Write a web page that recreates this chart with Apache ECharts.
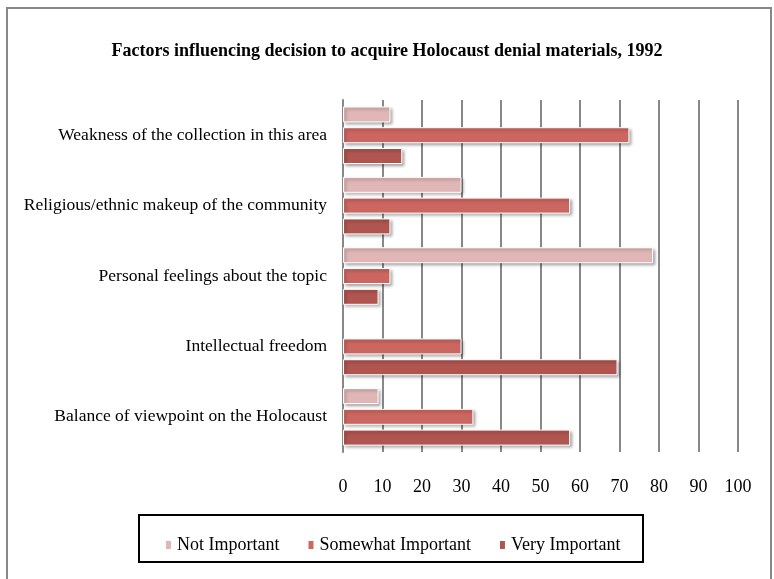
<!DOCTYPE html>
<html><head><meta charset="utf-8">
<script src="https://cdn.jsdelivr.net/npm/echarts@6/dist/echarts.min.js"></script>
<style>html,body{margin:0;padding:0;background:#fff}#c{width:774px;height:579px}</style>
</head><body><div id="c"></div>
<script>
const categories = ["Weakness of the collection in this area","Religious/ethnic makeup of the community","Personal feelings about the topic","Intellectual freedom","Balance of viewpoint on the Holocaust"];
const notImportant = [12, 30, 78.5, null, 9];
const somewhatImportant = [72.5, 57.5, 12, 30, 33];
const veryImportant = [15, 12, 9, 69.5, 57.5];
const seriesNames = ["Not Important","Somewhat Important","Very Important"];
const xTicks = [0,10,20,30,40,50,60,70,80,90,100];

const font = 'Liberation Serif';
const chart = echarts.init(document.getElementById('c'));
const barStyle = (c) => ({color:c, borderColor:'#fff', borderWidth:1, shadowColor:'rgba(0,0,0,0.35)', shadowBlur:3, shadowOffsetX:2, shadowOffsetY:2});
chart.setOption({
  animation:false,
  title:{text:'Factors influencing decision to acquire Holocaust denial materials, 1992', left:'center', top:37, textStyle:{fontFamily:font, fontWeight:'bold', fontSize:18, color:'#000'}},
  graphic:[
    {type:'rect', shape:{x:7,y:8,width:764,height:590}, style:{fill:'none', stroke:'#888', lineWidth:2}, z:-1},
    {type:'rect', shape:{x:139,y:515,width:504,height:47}, style:{fill:'none', stroke:'#000', lineWidth:2}}
  ],
  legend:{data:seriesNames, left:159, top:531, itemWidth:7, itemHeight:10, itemGap:27, icon:'rect', textStyle:{fontFamily:font, fontSize:18, color:'#000'}},
  grid:{left:343, right:36, top:100, bottom:127},
  xAxis:{type:'value', min:0, max:100, interval:10, axisLine:{show:false}, axisTick:{show:false},
    splitLine:{lineStyle:{color:'#888', width:2}},
    axisLabel:{fontFamily:font, fontSize:18, color:'#000', margin:26, formatter:(v)=>xTicks.includes(v)?String(v):''}},
  yAxis:{type:'category', data:categories, inverse:true, axisTick:{show:false},
    axisLine:{lineStyle:{color:'#888', width:2}},
    axisLabel:{fontFamily:font, fontSize:17.5, color:'#000', margin:16}},
  series:[
    {name:seriesNames[0], type:'bar', data:notImportant, barWidth:16, barGap:'30%', itemStyle:barStyle('#e0b7b6')},
    {name:seriesNames[1], type:'bar', data:somewhatImportant, barWidth:16, barGap:'30%', itemStyle:barStyle('#cc6661')},
    {name:seriesNames[2], type:'bar', data:veryImportant, barWidth:16, barGap:'30%', itemStyle:barStyle('#b0554f')}
  ]
});
</script></body></html>
